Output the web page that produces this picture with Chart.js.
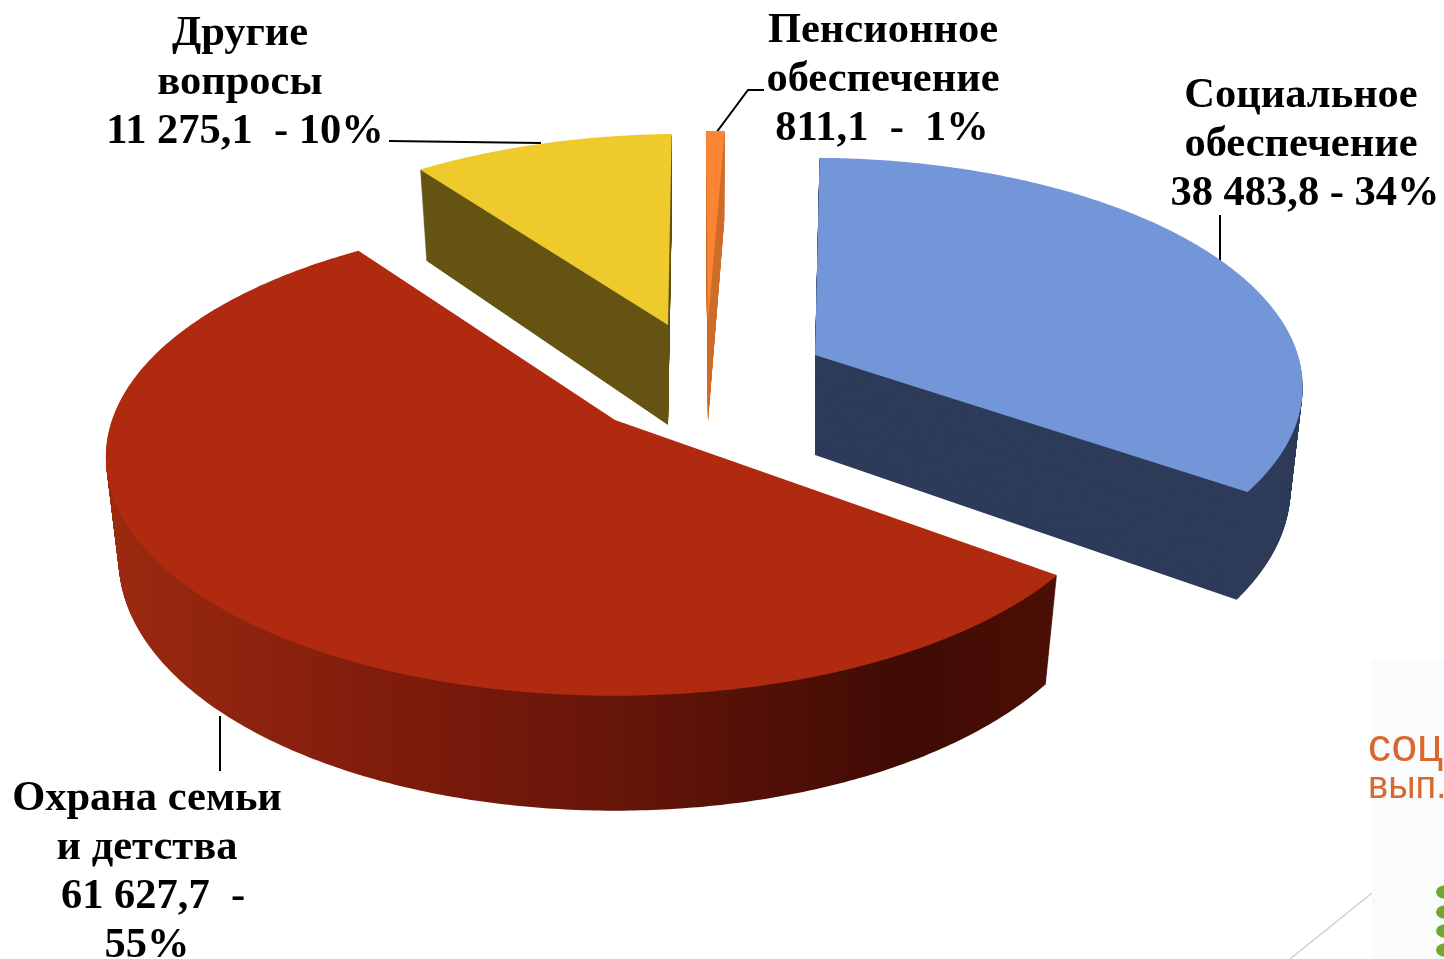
<!DOCTYPE html>
<html lang="ru">
<head>
<meta charset="utf-8">
<title>Расходы</title>
<script src="https://cdn.jsdelivr.net/npm/chart.js@4"></script>
<style>
  html, body { margin: 0; background: #fff; overflow: hidden; }
  canvas { display: block; }
</style>
</head>
<body>
<canvas id="pie" width="1444" height="959"></canvas>
<script>
const categories = ["Социальное обеспечение", "Охрана семьи и детства", "Другие вопросы", "Пенсионное обеспечение"]
const values     = [38483.8, 61627.7, 11275.1, 811.1]

const labelLines = [
  ["Социальное", "обеспечение", "38 483,8 - 34%"],
  ["Охрана семьи", "и детства", "61 627,7  -", "55%"],
  ["Другие", "вопросы", "11 275,1  - 10%"],
  ["Пенсионное", "обеспечение", "811,1  -  1%"]
]

const topColors  = ["#7396d9", "#b02a10", "#efca2d", "#fb8435"]
const wallColors = ["#2e3c5a", null, "#655413", "#cf702c"]

// exploded slices: where each tip sits, plus small corrections for the 3D look
const layout = [
  { x: 815, y: 355, r: 0.96, k: 0.14,  shear: -3, twist: 0 },
  { x: 615, y: 420, r: 1,    k: 0.155, shear: 0,  twist: 2.7 },
  { x: 668, y: 325, r: 0.95, k: 1 / 6, shear: 16, twist: 0 },
  { x: 708, y: 322, r: 0.95, k: 1 / 6, shear: 10, twist: 0 }
]
const labelPos = [
  { x: 1301, y: 107, shift: [0, 0, 4] },
  { x: 147,  y: 810, shift: [0, 0, 6, 0] },
  { x: 240,  y: 45,  shift: [0, 0, 5] },
  { x: 883,  y: 42,  shift: [0, 0, -1] }
]
const leaders = [
  [[1220, 215], [1220, 264]],
  [[220, 716], [220, 771]],
  [[389, 141], [541, 143]],
  [[716, 133], [748, 90], [764, 90]]
]

const A = 503, B = 233

// point on the tilted disc (u right, v away from viewer), t = how far down the wall
function project(s, u, v, t) {
  const w = 1 + s.k * v
  const shrink = 1 - 0.025 * t
  return [
    s.x + (A * u / w + s.shear * v) * shrink,
    s.y - B * v / w + t * 100 / (1 + 0.13 * v)
  ]
}

function slicePath(ctx, s, start, end, t) {
  const n = Math.max(2, Math.ceil((end - start) / 0.01))
  ctx.beginPath()
  let p = project(s, 0, 0, t)
  ctx.moveTo(p[0], p[1])
  for (let i = 0; i <= n; i++) {
    const a = start + (end - start) * i / n
    p = project(s, Math.cos(a) * s.r, -Math.sin(a) * s.r, t)
    ctx.lineTo(p[0], p[1])
  }
  ctx.closePath()
}

const tiltedPie = {
  id: "tiltedPie",
  beforeDatasetDraw() { return false },
  afterDatasetsDraw(chart) {
    const ctx = chart.ctx
    ctx.save()

    // faint slide behind the corner
    ctx.fillStyle = "#fafbfd"
    ctx.fillRect(1372, 660, 72, 299)
    ctx.strokeStyle = "#cfcfcf"
    ctx.lineWidth = 1.5
    ctx.beginPath()
    ctx.moveTo(1372, 893)
    ctx.lineTo(1290, 959)
    ctx.stroke()
    ctx.fillStyle = "#d9682f"
    ctx.textAlign = "left"
    ctx.font = "46px 'Liberation Sans'"
    ctx.fillText("соц", 1368, 761)
    ctx.font = "38px 'Liberation Sans'"
    ctx.fillText("вып.", 1368, 798)
    ctx.fillStyle = "#6fa82b"
    ;[892, 912, 931, 950].forEach(y => {
      ctx.beginPath()
      ctx.ellipse(1446, y, 10, 7, 0, 0, Math.PI * 2)
      ctx.fill()
    })

    // leader lines
    ctx.strokeStyle = "#000"
    ctx.lineWidth = 2
    leaders.forEach(line => {
      ctx.beginPath()
      line.forEach((p, i) => i ? ctx.lineTo(p[0], p[1]) : ctx.moveTo(p[0], p[1]))
      ctx.stroke()
    })

    const redWall = ctx.createLinearGradient(105, 0, 1050, 0)
    redWall.addColorStop(0,    "#9c2a10")
    redWall.addColorStop(0.3,  "#7f1c0c")
    redWall.addColorStop(0.55, "#651509")
    redWall.addColorStop(0.85, "#3f0b04")
    redWall.addColorStop(1,    "#4c0f06")

    chart.getDatasetMeta(0).data.forEach((arc, i) => {
      const s = layout[i]
      const tw = s.twist * Math.PI / 180
      const start = arc.startAngle + tw
      const end = arc.endAngle + tw

      // wall: the slice swept downward, then the top on it
      ctx.fillStyle = wallColors[i] || redWall
      for (let k = 120; k > 0; k--) {
        slicePath(ctx, s, start, end, k / 120)
        ctx.fill()
      }
      ctx.fillStyle = topColors[i]
      slicePath(ctx, s, start, end, 0)
      ctx.fill()
    })

    ctx.fillStyle = "#000"
    ctx.font = "bold 42.5px 'Liberation Serif'"
    ctx.textAlign = "center"
    labelLines.forEach((lines, i) => {
      const pos = labelPos[i]
      lines.forEach((text, j) => ctx.fillText(text, pos.x + pos.shift[j], pos.y + j * 49))
    })
    ctx.restore()
  }
}

new Chart(document.getElementById("pie"), {
  type: "pie",
  data: {
    labels: categories,
    datasets: [{ data: values, backgroundColor: topColors, borderWidth: 0 }]
  },
  options: {
    responsive: false,
    animation: false,
    rotation: 1,
    plugins: { legend: { display: false }, tooltip: { enabled: false } }
  },
  plugins: [tiltedPie]
})
</script>
</body>
</html>
